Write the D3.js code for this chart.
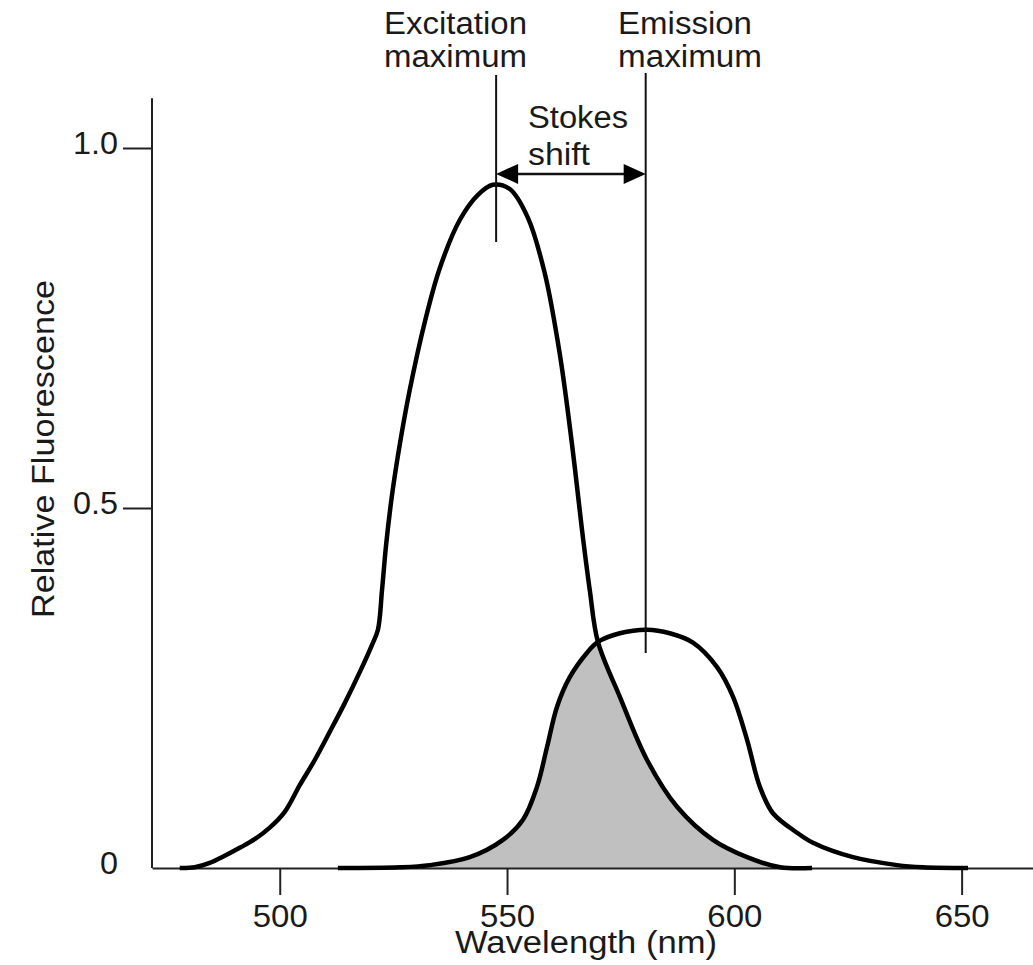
<!DOCTYPE html>
<html><head><meta charset="utf-8">
<script src="https://cdn.jsdelivr.net/npm/d3@7"></script>
<style>
html,body{margin:0;padding:0;background:#fff;}
svg text{font-family:"Liberation Sans",Arial,Helvetica,sans-serif;fill:#1a1a1a;}
</style></head>
<body><svg id="c" width="1033" height="965"></svg>
<script>
// ---- data ----
const excitationWl  = [478.0,481.3,484.6,487.9,491.2,494.5,497.8,501.1,504.4,507.7,511.0,514.3,517.6,520.3,521.6,522.5,523.4,524.7,526.4,528.6,531.9,535.2,539.6,543.6,546.9,550.6,554.6,558.3,561.6,564.3,566.5,568.2,570.0,574.8,580.8,587.4,595.3,602.8,610.1,617.1];
const excitationVal = [0,0.001,0.007,0.017,0.028,0.040,0.056,0.078,0.115,0.150,0.189,0.229,0.272,0.310,0.331,0.386,0.449,0.518,0.588,0.664,0.758,0.833,0.900,0.935,0.949,0.943,0.903,0.826,0.714,0.588,0.469,0.386,0.314,0.238,0.150,0.085,0.039,0.015,0.001,0];
const emissionWl  = [512.8,526.4,533.0,541.8,549.1,553.5,556.6,558.8,561.0,563.8,567.6,570.0,574.8,580.8,585.8,590.9,596.2,599.7,602.8,605.6,608.5,613.8,617.3,626.1,635.8,641.5,651.4];
const emissionVal = [0,0.001,0.004,0.015,0.039,0.067,0.113,0.168,0.224,0.265,0.299,0.314,0.326,0.331,0.326,0.313,0.279,0.238,0.178,0.113,0.076,0.049,0.035,0.015,0.004,0.001,0];
const xTicks = [500,550,600,650];
const yTicks = [0,0.5,1.0];
const yTickLabels = ["0","0.5","1.0"];
const excitationMax = 547.6, emissionMax = 580.5;
const stokesLevel = 0.964;

// ---- layout ----
const svg = d3.select("#c");
const FS = 31;
const x = d3.scaleLinear().domain([471.9,665.7]).range([152,1033]);
const y = d3.scaleLinear().domain([0,1]).range([868,148]);

const exData = excitationWl.map((w,i)=>({w, v:excitationVal[i]}));
const emData = emissionWl.map((w,i)=>({w, v:emissionVal[i]}));

const curve = d3.curveCatmullRom.alpha(0.5);
const line = d3.line().x(d=>x(d.w)).y(d=>y(d.v)).curve(curve);
const area = d3.area().x(d=>x(d.w)).y0(y(0)).y1(d=>y(d.v)).curve(curve);

// overlap shading: emission area clipped by excitation area
const defs = svg.append("defs");
defs.append("clipPath").attr("id","exClip").append("path").attr("d", area(exData));
svg.append("path").attr("d", area(emData)).attr("fill","#c0c0c0").attr("clip-path","url(#exClip)");

// axes
const xAxis = d3.axisBottom(x).tickValues(xTicks).tickSize(27).tickSizeOuter(0).tickPadding(10);
const gx = svg.append("g").attr("transform",`translate(0,${y(0)})`).call(xAxis);
gx.select(".domain").attr("stroke","#222").attr("stroke-width",2);
gx.selectAll(".tick line").attr("stroke","#222").attr("stroke-width",2);
gx.selectAll(".tick text").attr("font-size",FS).attr("fill","#1a1a1a")
  .attr("textLength",55).attr("lengthAdjust","spacingAndGlyphs")
  .style("font-family","Liberation Sans, Arial, sans-serif");

const yAxis = d3.axisLeft(y).tickValues(yTicks).tickSize(29).tickSizeOuter(0).tickPadding(5)
  .tickFormat((d,i)=>yTickLabels[i]);
const gy = svg.append("g").attr("transform","translate(152,0)").call(yAxis);
gy.select(".domain").attr("d", `M0,${y(1.069)}V${y(0)}`).attr("stroke","#222").attr("stroke-width",2);
gy.selectAll(".tick line").attr("stroke","#222").attr("stroke-width",2).attr("display",d=>d===0?"none":null);
gy.selectAll(".tick text").attr("font-size",FS).attr("dy","0.17em").attr("fill","#1a1a1a")
  .attr("textLength",(d,i)=>i===0?18:45).attr("lengthAdjust","spacingAndGlyphs")
  .style("font-family","Liberation Sans, Arial, sans-serif");

// curves
svg.append("path").attr("d", line(exData)).attr("fill","none").attr("stroke","#000").attr("stroke-width",4.5).attr("stroke-linejoin","round");
svg.append("path").attr("d", line(emData)).attr("fill","none").attr("stroke","#000").attr("stroke-width",4.5).attr("stroke-linejoin","round");

// maximum lines
svg.append("line").attr("x1",x(excitationMax)).attr("x2",x(excitationMax)).attr("y1",75).attr("y2",242).attr("stroke","#111").attr("stroke-width",2);
svg.append("line").attr("x1",x(emissionMax)).attr("x2",x(emissionMax)).attr("y1",73).attr("y2",653).attr("stroke","#111").attr("stroke-width",2);

// stokes arrow
const ay = y(stokesLevel), ax1 = x(excitationMax), ax2 = x(emissionMax);
svg.append("line").attr("x1",ax1+10).attr("x2",ax2-10).attr("y1",ay).attr("y2",ay).attr("stroke","#111").attr("stroke-width",2.5);
svg.append("path").attr("d",`M${ax1},${ay}L${ax1+22},${ay-10}L${ax1+22},${ay+10}Z`).attr("fill","#000");
svg.append("path").attr("d",`M${ax2},${ay}L${ax2-22},${ay-10}L${ax2-22},${ay+10}Z`).attr("fill","#000");

// annotation text
const t = (tx,ty,s,len,anchor)=>svg.append("text").attr("x",tx).attr("y",ty).attr("font-size",FS)
  .attr("text-anchor",anchor||"start").attr("textLength",len).attr("lengthAdjust","spacingAndGlyphs").text(s);
t(384,34,"Excitation",143); t(384,67,"maximum",143);
t(618,34,"Emission",134); t(618,67,"maximum",144);
t(528,128,"Stokes",100); t(528,165,"shift",62);

// axis titles
t(586,953,"Wavelength (nm)",262,"middle");
svg.append("text").attr("transform","translate(54,449) rotate(-90)").attr("font-size",FS)
  .attr("text-anchor","middle").attr("textLength",338).attr("lengthAdjust","spacingAndGlyphs").text("Relative Fluorescence");
</script></body></html>
